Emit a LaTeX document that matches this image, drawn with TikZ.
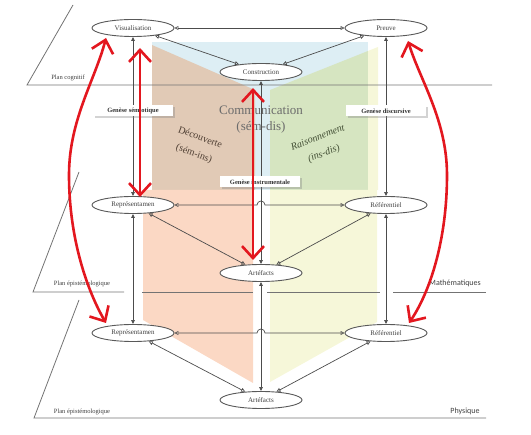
\documentclass[tikz,border=0pt]{standalone}
\usepackage{fontspec}
\setmainfont{Liberation Serif}
\newfontfamily\carl{Carlito}
\usetikzlibrary{shapes.geometric,arrows.meta,shadows}
\definecolor{rd}{HTML}{E3171F}
\definecolor{cblue}{RGB}{221,238,244}
\definecolor{ctan}{RGB}{225,202,182}
\definecolor{cgreen}{RGB}{214,229,193}
\definecolor{cyel}{RGB}{246,247,217}
\definecolor{csal}{RGB}{251,216,196}
\definecolor{tdec}{RGB}{80,64,52}
\definecolor{trai}{RGB}{66,78,52}
\begin{document}
\begin{tikzpicture}[x=1pt,y=-1pt,
  ell/.style={ellipse,draw=black!65,line width=0.9pt,fill=white,minimum width=82pt,minimum height=17pt,inner sep=0pt,font=\fontsize{7}{8}\selectfont,text=black!75},
  gbox/.style={fill=white,minimum width=80pt,minimum height=11pt,inner sep=0pt,font=\bfseries\fontsize{6.5}{7}\selectfont,text=black!80,drop shadow={opacity=0.35,shadow xshift=1.5pt,shadow yshift=-1.5pt}},
  conn/.style={draw=black!70,line width=0.7pt},
  oarr/.style={conn,{Triangle[open,length=4pt,width=4pt]}-{Triangle[open,length=4pt,width=4pt]}},
  farr/.style={conn,{Triangle[length=4pt,width=3.5pt]}-{Triangle[length=4pt,width=3.5pt]}},
  plane/.style={draw=black!55,line width=0.8pt},
  plab/.style={font=\fontsize{6.5}{7}\selectfont,text=black!75,inner sep=0pt},
  slab/.style={font=\carl\fontsize{8}{9}\selectfont,text=black!75,inner sep=0pt},
  walltxt/.style={inner sep=0pt,align=center},
  redarr/.style={draw=rd,line width=2.6pt,{Straight Barb[length=12pt,width=22pt]}-{Straight Barb[length=12pt,width=22pt]}}
]
\useasboundingbox (0,0) rectangle (531,435);
% coloured walls
\fill[cblue] (152,42) rectangle (368,190);
\fill[ctan] (152,45) -- (255,90) -- (255,190) -- (152,190) -- cycle;
\fill[cgreen] (270,90) -- (368,51) -- (368,190) -- (270,190) -- cycle;
\fill[cyel] (368,51) -- (378,47) -- (378,190) -- (368,190) -- cycle;
\fill[csal] (143,190) -- (253,190) -- (253,383) -- (143,320) -- cycle;
\fill[cyel] (270,190) -- (377,190) -- (377,322) -- (270,382) -- cycle;
% wall texts
\node[walltxt,text=black!58,font=\fontsize{13}{16}\selectfont] (comm) at (261,120) {Communication\\(sém-dis)};
\node[walltxt,rotate=-21,text=tdec,font=\fontsize{10}{17}\selectfont] (dec) at (197,146) {Découverte\\(sém-ins)};
\node[walltxt,rotate=21,text=trai,font=\itshape\fontsize{10}{17}\selectfont] (rai) at (321,146) {Raisonnement\\(ins-dis)};
% planes
\draw[plane] (73,5) -- (27,85) -- (492,85);
\draw[plane] (79,172) -- (33,292) -- (124,292);
\draw[plane] (142,292) -- (253,292);
\draw[plane] (267,292) -- (380,292);
\draw[plane] (393,292) -- (486,292);
\draw[plane] (79,300) -- (34,418) -- (486,418);
\node[plab] (pc) at (68,78) {Plan cognitif};
\node[plab] (pe1) at (82,284) {Plan épistémologique};
\node[plab] (pe2) at (82,412) {Plan épistémologique};
\node[slab] (math) at (455,283) {Mathématiques};
\node[slab] (phys) at (465,411) {Physique};
% nodes
\node[ell] (Vis) at (133,28) {Visualisation};
\node[ell] (Pre) at (386,28) {Preuve};
\node[ell] (Con) at (261,72) {Construction};
\node[ell] (RepU) at (133,205) {Représentamen};
\node[ell] (RefU) at (386,205) {Référentiel};
\node[ell] (ArtU) at (261,273) {Artéfacts};
\node[ell] (RepL) at (133,333) {Représentamen};
\node[ell] (RefL) at (386,333) {Référentiel};
\node[ell] (ArtL) at (261,400) {Artéfacts};
% connectors
\draw[oarr] (Vis) -- (Pre);
\draw[oarr] (Vis) -- (Con);
\draw[oarr] (Pre) -- (Con);
\draw[farr] (Vis) -- (RepU);
\draw[farr] (Pre) -- (RefU);
\draw[farr] (Con) -- (ArtU);
\draw[farr] (RepU) -- (RepL);
\draw[farr] (RefU) -- (RefL);
\draw[farr] (ArtU) -- (ArtL);
\coordinate (hu) at (257,205);
\coordinate (hl) at (257,333);
\draw[oarr] (RepU) -- (hu) arc[start angle=180,end angle=360,radius=4] -- (RefU);
\draw[oarr] (RepL) -- (hl) arc[start angle=180,end angle=360,radius=4] -- (RefL);
\draw[oarr] (RepU) -- (ArtU);
\draw[oarr] (RefU) -- (ArtU);
\draw[oarr] (RepL) -- (ArtL);
\draw[oarr] (RefL) -- (ArtL);
% genese boxes
\node[gbox] (gs) at (133,111) {Genèse sémiotique};
\node[gbox] (gd) at (386,111) {Genèse discursive};
\node[gbox] (gi) at (260,182) {Genèse instrumentale};
% red arrows
\coordinate (r1a) at (106,38);
\coordinate (r1m) at (69,175);
\coordinate (r1b) at (106,323);
\coordinate (r2a) at (408,41);
\coordinate (r2m) at (447,175);
\coordinate (r2b) at (409,323);
\coordinate (r3a) at (140,48);
\coordinate (r3b) at (140,197);
\coordinate (r4a) at (253,88);
\coordinate (r4b) at (253,260);
\draw[redarr] (r1a) .. controls (95,80) and (69,120) .. (r1m) .. controls (69,240) and (88,292) .. (r1b);
\draw[redarr] (r2a) .. controls (420,80) and (447,120) .. (r2m) .. controls (447,240) and (430,292) .. (r2b);
\draw[redarr] (r3a) -- (r3b);
\draw[redarr] (r4a) -- (r4b);
\end{tikzpicture}
\end{document}
